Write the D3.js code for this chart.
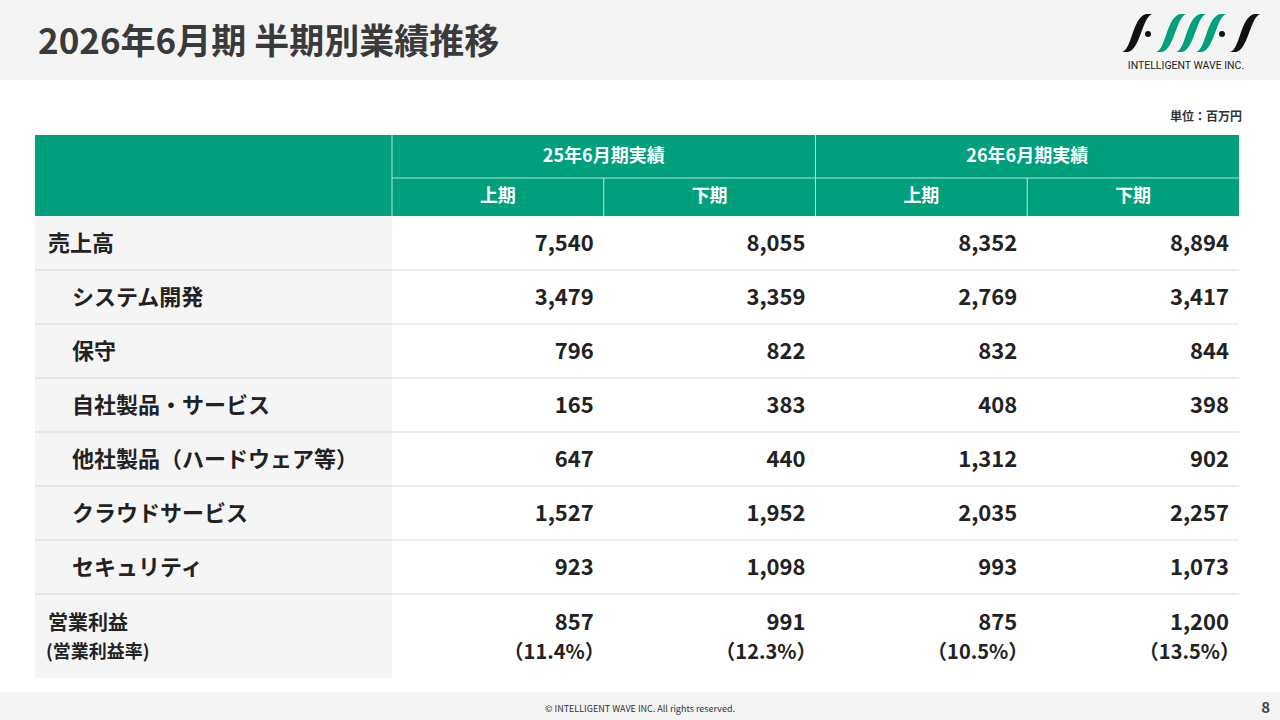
<!DOCTYPE html>
<html><head><meta charset="utf-8">
<script src="https://cdn.jsdelivr.net/npm/d3@7"></script>
<style>body{margin:0;background:#fff}svg{display:block;font-family:"Noto Sans CJK JP","Noto Sans",sans-serif}</style>
</head><body><svg id="c" width="1280" height="720"></svg>
<script>
var periods = ['25年6月期実績', '26年6月期実績'];
var halves = ['上期', '下期', '上期', '下期'];
var rowLabels = ['売上高', 'システム開発', '保守', '自社製品・サービス', '他社製品（ハードウェア等）', 'クラウドサービス', 'セキュリティ'];
var rowValues = [
    [7540, 8055, 8352, 8894],
    [3479, 3359, 2769, 3417],
    [796, 822, 832, 844],
    [165, 383, 408, 398],
    [647, 440, 1312, 902],
    [1527, 1952, 2035, 2257],
    [923, 1098, 993, 1073]
];
var opProfit = [857, 991, 875, 1200];
var opMargin = [11.4, 12.3, 10.5, 13.5];

var svg = d3.select('#c');
var green = '#00a07d', fmt = d3.format(',');

// header band and footer band
svg.append('rect').attr('width', 1280).attr('height', 80).attr('fill', '#f4f4f4');
svg.append('rect').attr('y', 692).attr('width', 1280).attr('height', 28).attr('fill', '#f4f4f4');
svg.append('text').attr('x', 38).attr('y', 54).attr('font-size', 35).attr('font-weight', 700)
    .attr('fill', '#3a3a3a').text('2026年6月期 半期別業績推移');
svg.append('text').attr('x', 640).attr('y', 712).attr('text-anchor', 'middle').attr('font-size', 9)
    .attr('fill', '#333').text('© INTELLIGENT WAVE INC. All rights reserved.');
svg.append('text').attr('x', 1270).attr('y', 713).attr('text-anchor', 'end').attr('font-size', 15)
    .attr('font-weight', 700).attr('fill', '#444').text('8');

// logo: slanted leaf strokes
var logo = svg.append('g');
[[1122, '#111'], [1156, green], [1176, green], [1196, green], [1230, '#111']].forEach(function(d) {
    var a = d[0];
    logo.append('path')
        .attr('d', 'M' + a + ',52 C' + (a + 10) + ',50 ' + (a + 10) + ',18 ' + (a + 24) + ',14 L' + (a + 30) + ',14 C' + (a + 20) + ',18 ' + (a + 18) + ',50 ' + (a + 6) + ',52 Z')
        .attr('fill', d[1]);
});
[1148, 1222].forEach(function(x) { logo.append('circle').attr('cx', x).attr('cy', 34).attr('r', 3).attr('fill', '#111'); });
svg.append('text').attr('x', 1186).attr('y', 69).attr('text-anchor', 'middle').attr('font-size', 10.5)
    .attr('font-family', 'Roboto,sans-serif').attr('fill', '#222').text('INTELLIGENT WAVE INC.');
svg.append('text').attr('x', 1242).attr('y', 121).attr('text-anchor', 'end').attr('font-size', 12)
    .attr('font-weight', 700).attr('fill', '#333').text('単位：百万円');

// table geometry via scales
var x = d3.scaleBand().domain(d3.range(4)).range([392, 1239]);
var left = 35, right = 1239;
var yRow = d3.scaleBand().domain(d3.range(rowLabels.length)).range([216, 594]);

svg.append('rect').attr('x', left).attr('y', 135).attr('width', right - left).attr('height', 81).attr('fill', green);
periods.forEach(function(p, i) {
    svg.append('text').attr('x', x(i * 2) + x.bandwidth()).attr('y', 162).attr('text-anchor', 'middle')
        .attr('font-size', 18).attr('font-weight', 700).attr('fill', '#fff').text(p);
});
halves.forEach(function(h, i) {
    svg.append('text').attr('x', x(i) + x.bandwidth() / 2).attr('y', 202).attr('text-anchor', 'middle')
        .attr('font-size', 18).attr('font-weight', 700).attr('fill', '#fff').text(h);
});
svg.append('line').attr('x1', 392).attr('x2', right).attr('y1', 178).attr('y2', 178).attr('stroke', '#b8e6d8');
[392, x(2)].forEach(function(xx) {
    svg.append('line').attr('x1', xx).attr('x2', xx).attr('y1', 135).attr('y2', 216).attr('stroke', '#b8e6d8');
});
[x(1), x(3)].forEach(function(xx) {
    svg.append('line').attr('x1', xx).attr('x2', xx).attr('y1', 178).attr('y2', 216).attr('stroke', '#b8e6d8');
});

// label column background
svg.append('rect').attr('x', left).attr('y', 216).attr('width', 392 - left).attr('height', 678 - 216).attr('fill', '#f5f5f5');

rowLabels.forEach(function(lab, r) {
    var y0 = yRow(r), cy = y0 + yRow.bandwidth() / 2 + 8;
    svg.append('line').attr('x1', left).attr('x2', right).attr('y1', y0 + yRow.bandwidth()).attr('y2', y0 + yRow.bandwidth())
        .attr('stroke', '#d9d9d9');
    svg.append('text').attr('x', r === 0 ? 48 : 72).attr('y', cy).attr('font-size', 22).attr('font-weight', 700)
        .attr('fill', '#222').text(lab);
    rowValues[r].forEach(function(v, i) {
        svg.append('text').attr('x', x(i) + x.bandwidth() - 10).attr('y', cy).attr('text-anchor', 'end')
            .attr('font-size', 22).attr('font-weight', 700).attr('fill', '#222').text(fmt(v));
    });
});

svg.append('text').attr('x', 48).attr('y', 630).attr('font-size', 20).attr('font-weight', 700).attr('fill', '#222').text('営業利益');
svg.append('text').attr('x', 46).attr('y', 658).attr('font-size', 18).attr('font-weight', 700).attr('fill', '#222').text('(営業利益率)');
opProfit.forEach(function(v, i) {
    var xr = x(i) + x.bandwidth() - 10;
    svg.append('text').attr('x', xr).attr('y', 630).attr('text-anchor', 'end').attr('font-size', 22)
        .attr('font-weight', 700).attr('fill', '#222').text(fmt(v));
    svg.append('text').attr('x', xr + 11).attr('y', 659).attr('text-anchor', 'end').attr('font-size', 20)
        .attr('font-weight', 700).attr('fill', '#222').text('（' + opMargin[i].toFixed(1) + '%）');
});
</script></body></html>
